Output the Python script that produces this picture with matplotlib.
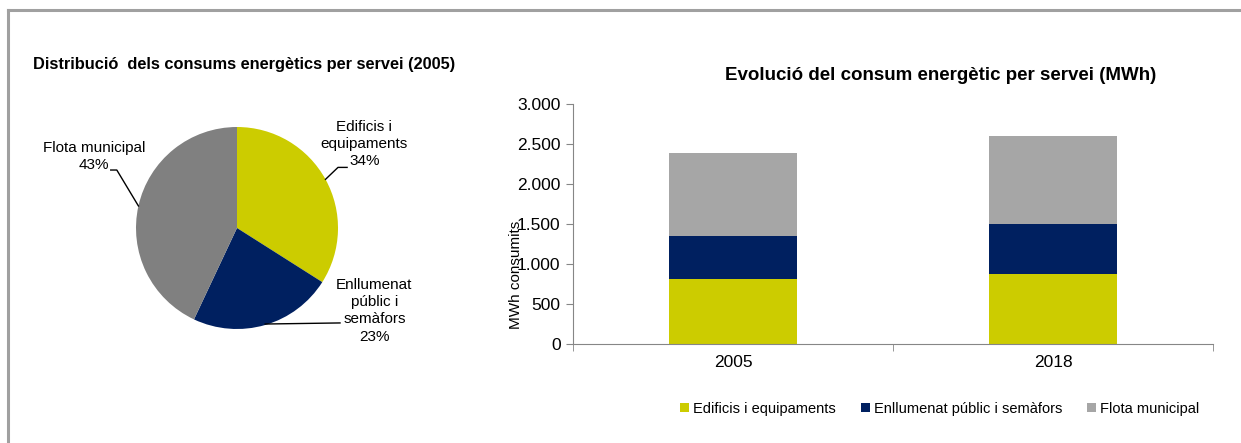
import numpy as np
import matplotlib
matplotlib.use("Agg")
import matplotlib.pyplot as plt
from matplotlib.lines import Line2D

plt.rcParams["font.family"] = ["Liberation Sans", "DejaVu Sans"]

# data
services = ["Edificis i equipaments", "Enllumenat públic i semàfors", "Flota municipal"]
pie_labels = ["Edificis i\nequipaments", "Enllumenat\npúblic i\nsemàfors", "Flota municipal"]
pie_pct = [34, 23, 43]
years = ["2005", "2018"]
edificis = [810, 875]
enllumenat = [540, 630]
flota = [1040, 1095]

yellow = "#CCCC00"
navy = "#002060"
gray_pie = "#808080"
gray_bar = "#A6A6A6"
axis_gray = "#868686"

W, H = 1241, 443
fig = plt.figure(figsize=(W / 100, H / 100), dpi=100)

# frame lines (top and left) like the screenshot
fig.add_artist(Line2D([7.5 / W, 1.0], [1 - 10 / H, 1 - 10 / H], color="#A0A0A0", lw=2.2))
fig.add_artist(Line2D([7.5 / W, 7.5 / W], [0, 1 - 10 / H], color="#A0A0A0", lw=2.2))

# ---- pie ----
axp = fig.add_axes([136 / W, 1 - 329 / H, 202 / W, 202 / H])
wedges, _ = axp.pie(pie_pct, colors=[yellow, navy, gray_pie], startangle=90,
                    counterclock=False, radius=1.0)
axp.set_xlim(-1, 1)
axp.set_ylim(-1, 1)
axp.set_aspect("auto")
axp.axis("off")

# label layout: (text x, text y, elbow point, line end)
lay = [
    (1.26, 0.83, (1.0, 0.60), (1.09, 0.60)),
    (1.36, -0.82, None, (1.02, -0.94)),
    (-1.415, 0.71, (-1.19, 0.574), (-1.25, 0.574)),
]
for w, lab, p, (tx, ty, elbow, end) in zip(wedges, pie_labels, pie_pct, lay):
    ang = np.deg2rad((w.theta1 + w.theta2) / 2)
    ex, ey = np.cos(ang), np.sin(ang)
    if elbow is None:
        xs, ys = [ex, end[0]], [ey * 0.99, end[1]]
    else:
        xs, ys = [ex, elbow[0], end[0]], [ey, elbow[1], end[1]]
    axp.plot(xs, ys, color="black", lw=1, clip_on=False)
    axp.text(tx, ty, f"{lab}\n{p}%", ha="center", va="center", fontsize=11,
             linespacing=1.3, clip_on=False)

fig.text(33 / W, 1 - 65 / H, "Distribució  dels consums energètics per servei (2005)",
         fontsize=11.8, fontweight="bold", ha="left", va="center")

# ---- stacked bars ----
axb = fig.add_axes([573 / W, 1 - 344 / H, 640 / W, 240 / H])
x = np.arange(len(years))
bw = 0.4
axb.bar(x, edificis, bw, color=yellow, label=services[0])
axb.bar(x, enllumenat, bw, bottom=edificis, color=navy, label=services[1])
bot2 = [a + b for a, b in zip(edificis, enllumenat)]
axb.bar(x, flota, bw, bottom=bot2, color=gray_bar, label=services[2])

axb.set_xlim(-0.5, len(years) - 0.5)
axb.set_ylim(0, 3000)
axb.set_yticks(np.arange(0, 3001, 500))
axb.set_yticklabels([f"{v:,.0f}".replace(",", ".") for v in np.arange(0, 3001, 500)])
axb.set_xticks(x)
axb.set_xticklabels(years)
axb.set_xticks(np.arange(-0.5, len(years), 1), minor=True)
axb.tick_params(axis="x", which="major", length=0, pad=8, labelsize=12.5)
axb.tick_params(axis="x", which="minor", length=5, color=axis_gray, direction="out")
axb.tick_params(axis="y", length=5, color=axis_gray, labelsize=12.5, pad=4)
for s in ["top", "right"]:
    axb.spines[s].set_visible(False)
for s in ["left", "bottom"]:
    axb.spines[s].set_color(axis_gray)
axb.set_ylabel("MWh consumits", fontsize=11)
axb.yaxis.set_label_coords(-0.078, 0.29)

fig.text(941 / W, 1 - 75 / H, "Evolució del consum energètic per servei (MWh)",
         fontsize=13.5, fontweight="bold", ha="center", va="center")

fig.legend(loc="center", bbox_to_anchor=(940 / W, 1 - 409 / H), ncol=3, frameon=False,
           fontsize=10.5, handlelength=0.6, handleheight=0.6, handletextpad=0.3,
           columnspacing=1.7)

fig.savefig("out.png", dpi=100)
